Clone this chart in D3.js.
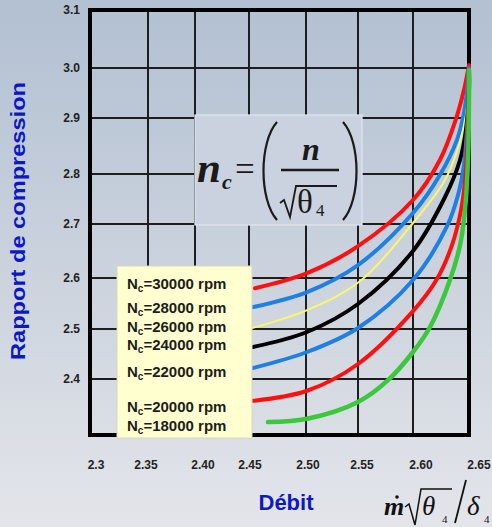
<!DOCTYPE html>
<html>
<head>
<meta charset="utf-8">
<script src="https://cdn.jsdelivr.net/npm/d3@7"></script>
<style>
  body { margin: 0; }
  svg { display: block; }
</style>
</head>
<body>
<svg width="492" height="527"></svg>
<script>
// axis ticks
const xTicks = [2.30, 2.35, 2.40, 2.45, 2.50, 2.55, 2.60, 2.65];
const xTickLabels = ["2.3", "2.35", "2.40", "2.45", "2.50", "2.55", "2.60", "2.65"];
const yTicks = [2.3, 2.4, 2.5, 2.6, 2.7, 2.8, 2.9, 3.0, 3.1];
const yTickLabels = ["", "2.4", "2.5", "2.6", "2.7", "2.8", "2.9", "3.0", "3.1"];

// corrected speeds (rpm)
const speeds = [30000, 28000, 26000, 24000, 22000, 20000, 18000];

// [debit, pressure ratio]
const nc30000 = [[2.4553, 2.580], [2.501, 2.609], [2.550, 2.659], [2.600, 2.748], [2.624, 2.825], [2.6375, 2.893], [2.6455, 2.956], [2.650, 3.005]];
const nc28000 = [[2.4535, 2.543], [2.501, 2.5725], [2.550, 2.624], [2.600, 2.722], [2.624, 2.798], [2.6393, 2.861], [2.6446, 2.900], [2.6482, 2.952], [2.650, 3.000]];
const nc26000 = [[2.4526, 2.502], [2.501, 2.537], [2.552, 2.594], [2.600, 2.702], [2.6286, 2.788], [2.6411, 2.852], [2.6473, 2.906], [2.650, 2.976], [2.650, 2.996]];
const nc24000 = [[2.4535, 2.464], [2.501, 2.494], [2.550, 2.549], [2.600, 2.650], [2.6286, 2.754], [2.642, 2.825], [2.6473, 2.879], [2.650, 2.956], [2.650, 2.996]];
const nc22000 = [[2.4535, 2.422], [2.501, 2.454], [2.550, 2.502], [2.600, 2.596], [2.6304, 2.696], [2.6402, 2.758], [2.6455, 2.816], [2.6482, 2.879], [2.650, 2.956], [2.650, 2.996]];
const nc20000 = [[2.4535, 2.361], [2.501, 2.379], [2.550, 2.430], [2.600, 2.535], [2.6214, 2.598], [2.6348, 2.661], [2.6429, 2.728], [2.6473, 2.807], [2.6491, 2.896], [2.650, 2.996]];
const nc18000 = [[2.4667, 2.323], [2.501, 2.329], [2.550, 2.359], [2.5773, 2.398], [2.600, 2.454], [2.6152, 2.504], [2.633, 2.596], [2.642, 2.661], [2.6464, 2.728], [2.6491, 2.825], [2.650, 2.936], [2.650, 2.996]];

const curves = [nc30000, nc28000, nc26000, nc24000, nc22000, nc20000, nc18000];
const curveColors = ["#ff1010", "#1e80e4", "#f8f86a", "#000000", "#1e80e4", "#ff1010", "#3cc83c"];
const curveWidths = [4, 4, 2, 4, 4, 4, 4.5];

var svg = d3.select("svg"),
  width = +svg.attr("width"),
  height = +svg.attr("height");

// background gradient
var defs = svg.append("defs");
var grad = defs.append("linearGradient")
  .attr("id", "bg")
  .attr("x1", 0).attr("y1", 0).attr("x2", 0).attr("y2", 1);
grad.append("stop").attr("offset", "0%").attr("stop-color", "#b2c0d2");
grad.append("stop").attr("offset", "55%").attr("stop-color", "#cdd4de");
grad.append("stop").attr("offset", "100%").attr("stop-color", "#e3e5ea");

svg.append("rect")
  .attr("width", width)
  .attr("height", height)
  .attr("fill", "url(#bg)");

// the grid of the original is not evenly spaced, so piecewise scales
var x = d3.scaleLinear()
  .domain(xTicks)
  .range([90, 148, 195, 249, 306, 358, 413, 469]);

var xLabel = d3.scaleLinear()
  .domain(xTicks)
  .range([96, 146, 203, 250, 308, 362, 421, 479]);

var y = d3.scaleLinear()
  .domain(yTicks)
  .range([435, 379, 329, 278, 224, 174, 118, 68, 10]);

// grid lines
svg.selectAll("vGrid")
  .data(xTicks.slice(1, -1))
  .enter()
  .append("line")
  .attr("x1", d => x(d))
  .attr("x2", d => x(d))
  .attr("y1", y(3.1))
  .attr("y2", y(2.3))
  .attr("stroke", "#1e1e1e")
  .attr("stroke-width", 2);

svg.selectAll("hGrid")
  .data(yTicks.slice(1, -1))
  .enter()
  .append("line")
  .attr("x1", x(2.3))
  .attr("x2", x(2.65))
  .attr("y1", d => y(d))
  .attr("y2", d => y(d))
  .attr("stroke", "#1e1e1e")
  .attr("stroke-width", 2);

// frame
svg.append("rect")
  .attr("x", x(2.3))
  .attr("y", y(3.1))
  .attr("width", x(2.65) - x(2.3))
  .attr("height", y(2.3) - y(3.1))
  .attr("fill", "none")
  .attr("stroke", "#000")
  .attr("stroke-width", 4);

// formula box
var fb = svg.append("g").attr("class", "formula");
fb.append("rect")
  .attr("x", 195).attr("y", 115)
  .attr("width", 167).attr("height", 110)
  .attr("fill", "#c9d2de")
  .attr("stroke", "#e2e7ee")
  .attr("stroke-width", 1.2);

var serif = "'Liberation Serif', 'Times New Roman', serif";
fb.append("text")
  .attr("x", 197).attr("y", 182)
  .attr("font-family", serif)
  .attr("font-style", "italic")
  .attr("font-weight", "bold")
  .attr("font-size", 43)
  .attr("fill", "#1a1a1a")
  .text("n");
fb.append("text")
  .attr("x", 222).attr("y", 189)
  .attr("font-family", serif)
  .attr("font-style", "italic")
  .attr("font-weight", "bold")
  .attr("font-size", 22)
  .attr("fill", "#1a1a1a")
  .text("c");
fb.append("text")
  .attr("x", 235).attr("y", 181)
  .attr("font-family", serif)
  .attr("font-size", 35)
  .attr("fill", "#1a1a1a")
  .text("=");
fb.append("path")
  .attr("d", "M277,122 C259,142 259,200 277,220")
  .attr("fill", "none").attr("stroke", "#1a1a1a").attr("stroke-width", 2.2);
fb.append("path")
  .attr("d", "M343,122 C361,142 361,200 343,220")
  .attr("fill", "none").attr("stroke", "#1a1a1a").attr("stroke-width", 2.2);
fb.append("text")
  .attr("x", 311).attr("y", 160)
  .attr("text-anchor", "middle")
  .attr("font-family", serif)
  .attr("font-style", "italic")
  .attr("font-weight", "bold")
  .attr("font-size", 32)
  .attr("fill", "#1a1a1a")
  .text("n");
fb.append("line")
  .attr("x1", 281).attr("x2", 339)
  .attr("y1", 170).attr("y2", 170)
  .attr("stroke", "#1a1a1a").attr("stroke-width", 2.5);
fb.append("path")
  .attr("d", "M280,203 L284,200 L290,217 L296,186 L337,186")
  .attr("fill", "none").attr("stroke", "#1a1a1a").attr("stroke-width", 1.8);
fb.append("text")
  .attr("x", 305).attr("y", 213)
  .attr("text-anchor", "middle")
  .attr("font-family", serif)
  .attr("font-size", 33)
  .attr("fill", "#1a1a1a")
  .text("θ");
fb.append("text")
  .attr("x", 316).attr("y", 216)
  .attr("font-family", serif)
  .attr("font-size", 17)
  .attr("fill", "#1a1a1a")
  .text("4");

// curves
var line = d3.line()
  .x(d => x(d[0]))
  .y(d => y(d[1]))
  .curve(d3.curveCatmullRom.alpha(0.5));

svg.selectAll("curve")
  .data(curves)
  .enter()
  .append("path")
  .attr("d", line)
  .attr("fill", "none")
  .attr("stroke", (d, i) => curveColors[i])
  .attr("stroke-width", (d, i) => curveWidths[i])
  .attr("stroke-linecap", "round")
  .attr("stroke-linejoin", "round");

// legend box
var legendY = [289, 313, 332, 350, 377, 412, 431];
var lg = svg.append("g").attr("class", "legend");
lg.append("rect")
  .attr("x", 117).attr("y", 266)
  .attr("width", 135).attr("height", 172)
  .attr("fill", "#ffffcf")
  .attr("stroke", "#d8d8c0")
  .attr("stroke-width", 1);

var lt = lg.selectAll("legendText")
  .data(speeds)
  .enter()
  .append("text")
  .attr("x", 127)
  .attr("y", (d, i) => legendY[i])
  .attr("font-family", "'Liberation Sans', Arial, sans-serif")
  .attr("font-weight", "bold")
  .attr("font-size", 15)
  .attr("fill", "#1c1c1c");
lt.append("tspan").text("N");
lt.append("tspan").attr("dy", 3).attr("font-size", 10).text("c");
lt.append("tspan").attr("dy", -3).text(d => `=${d} rpm`);

// tick labels
svg.selectAll("xTick")
  .data(xTicks)
  .enter()
  .append("text")
  .attr("x", d => xLabel(d))
  .attr("y", 469)
  .attr("text-anchor", "middle")
  .attr("font-family", "'Liberation Sans', Arial, sans-serif")
  .attr("font-weight", "bold")
  .attr("font-size", 12)
  .attr("fill", "#222")
  .text((d, i) => xTickLabels[i]);

svg.selectAll("yTick")
  .data(yTicks)
  .enter()
  .append("text")
  .attr("x", 80)
  .attr("y", d => y(d) + 4)
  .attr("text-anchor", "end")
  .attr("font-family", "'Liberation Sans', Arial, sans-serif")
  .attr("font-weight", "bold")
  .attr("font-size", 12)
  .attr("fill", "#222")
  .text((d, i) => yTickLabels[i]);

// axis titles
svg.append("text")
  .attr("transform", "translate(25,221) rotate(-90)")
  .attr("text-anchor", "middle")
  .attr("font-family", "'Liberation Sans', Arial, sans-serif")
  .attr("font-weight", "bold")
  .attr("font-size", 20)
  .attr("textLength", 278)
  .attr("lengthAdjust", "spacingAndGlyphs")
  .attr("fill", "#0c18c8")
  .text("Rapport de compression");

svg.append("text")
  .attr("x", 286)
  .attr("y", 510)
  .attr("text-anchor", "middle")
  .attr("font-family", "'Liberation Sans', Arial, sans-serif")
  .attr("font-weight", "bold")
  .attr("font-size", 22)
  .attr("fill", "#0c18c8")
  .text("Débit");

// m-dot sqrt(theta4) / delta4
var fx = svg.append("g").attr("fill", "#111");
fx.append("text")
  .attr("x", 384).attr("y", 515)
  .attr("font-family", serif)
  .attr("font-style", "italic")
  .attr("font-weight", "bold")
  .attr("font-size", 26)
  .text("m");
fx.append("circle").attr("cx", 397).attr("cy", 497).attr("r", 1.8);
fx.append("path")
  .attr("d", "M405,507 L409,504 L415,525 L421,489 L452,489")
  .attr("fill", "none").attr("stroke", "#111").attr("stroke-width", 1.5);
fx.append("text")
  .attr("x", 422).attr("y", 515)
  .attr("font-family", serif)
  .attr("font-style", "italic")
  .attr("font-size", 27)
  .text("θ");
fx.append("text")
  .attr("x", 442).attr("y", 523)
  .attr("font-family", serif)
  .attr("font-size", 11)
  .text("4");
fx.append("line")
  .attr("x1", 466).attr("y1", 480)
  .attr("x2", 455).attr("y2", 523)
  .attr("stroke", "#111").attr("stroke-width", 1.8);
fx.append("text")
  .attr("x", 467).attr("y", 515)
  .attr("font-family", serif)
  .attr("font-style", "italic")
  .attr("font-size", 27)
  .text("δ");
fx.append("text")
  .attr("x", 484).attr("y", 523)
  .attr("font-family", serif)
  .attr("font-size", 11)
  .text("4");
</script>
</body>
</html>
